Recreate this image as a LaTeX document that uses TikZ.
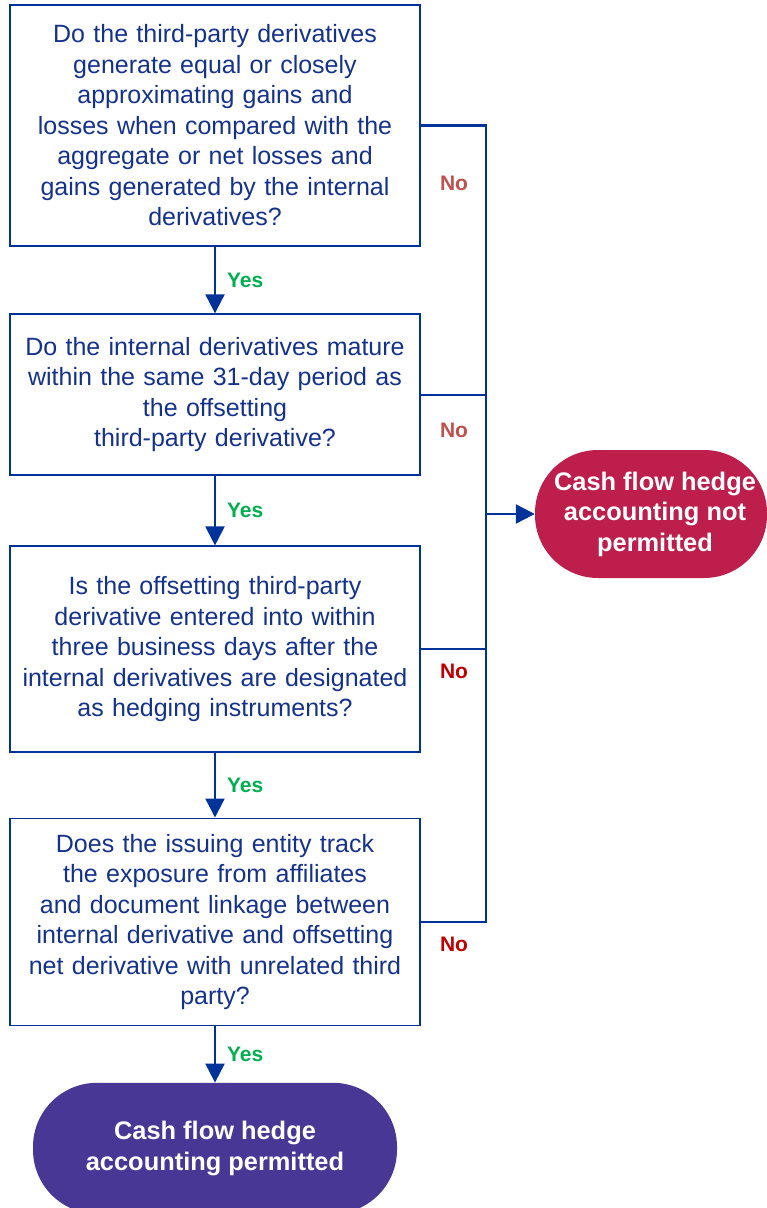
\documentclass[tikz,border=0pt]{standalone}
\usepackage{fontspec}
\setmainfont{Liberation Sans}
\usetikzlibrary{positioning,arrows.meta,calc}

\definecolor{flowblue}{RGB}{0,51,153}
\definecolor{textblue}{RGB}{20,50,140}
\definecolor{yesgreen}{RGB}{0,176,80}
\definecolor{nosalmon}{RGB}{192,80,77}
\definecolor{nored}{RGB}{192,0,0}
\definecolor{stopred}{RGB}{190,30,75}
\definecolor{gopurple}{RGB}{73,55,150}

\begin{document}
\begin{tikzpicture}[
    x=1pt, y=1pt,
    node distance=66.5pt,
    question/.style={draw=flowblue, line width=1.6pt, rectangle, align=center, minimum width=410pt, text width=400pt, inner xsep=5pt, text=textblue, font=\fontsize{25}{30.5}\selectfont},
    endbox/.style={rectangle, rounded corners=62pt, align=center, text=white, font=\bfseries\fontsize{25.4}{30.5}\selectfont},
    yes/.style={right, inner sep=0pt, xshift=11pt, text=yesgreen, font=\bfseries\fontsize{21}{24}\selectfont},
    no/.style={inner sep=0pt, font=\bfseries\fontsize{21}{24}\selectfont},
    line/.style={draw=flowblue, line width=2.2pt},
    arrow/.style={line, -{Triangle[length=19pt, width=19pt]}}
]
\useasboundingbox (0,0) rectangle (767,-1208);

% Coluna de perguntas (cima -> baixo)
\node[question, minimum height=241pt] (q1) at (215,-125.5) {Do the third-party derivatives\\generate equal or closely\\approximating gains and\\losses when compared with the\\aggregate or net losses and\\gains generated by the internal\\derivatives?};
\node[question, minimum height=161pt, below=66.5pt of q1] (q2) {Do the internal derivatives mature\\within the same 31-day period as\\the offsetting\\third-party derivative?};
\node[question, minimum height=206pt, below=69.5pt of q2] (q3) {Is the offsetting third-party\\derivative entered into within\\three business days after the\\internal derivatives are designated\\as hedging instruments?};
\node[question, minimum height=207pt, below=64.5pt of q3] (q4) {Does the issuing entity track\\the exposure from affiliates\\and document linkage between\\internal derivative and offsetting\\net derivative with unrelated third\\party?};

% Resultados
\node[endbox, fill=gopurple, minimum width=364pt, minimum height=131pt, rounded corners=64pt, below=56.5pt of q4] (permitted) {Cash flow hedge\\accounting permitted};
\node[endbox, fill=stopred, minimum width=232pt, minimum height=128pt, rounded corners=63pt] (notpermitted) at (651,-514) {\hspace*{8pt}Cash flow hedge\\\hspace*{8pt}accounting not\\\hspace*{8pt}permitted};
\coordinate (rail) at (486,-514);

% Ramos "Yes"
\draw[arrow] (q1) -- node[yes] {Yes} (q2);
\draw[arrow] (q2) -- node[yes] {Yes} (q3);
\draw[arrow] (q3) -- node[yes] {Yes} (q4);
\draw[arrow] (q4) -- node[yes] {Yes} (permitted);

% Ramos "No"
\draw[line] (q1.east) -| (rail);
\draw[line] (q2.east) -| (rail);
\draw[line] (q3.east) -| (rail);
\draw[line] (q4.east) -| (rail);
\draw[arrow] (rail) -- (notpermitted);

\node[no, text=nosalmon] (no1) at (454,-183) {No};
\node[no, text=nosalmon] (no2) at (454,-430) {No};
\node[no, text=nored] (no3) at (454,-671) {No};
\node[no, text=nored] (no4) at (454,-944) {No};

\end{tikzpicture}
\end{document}
